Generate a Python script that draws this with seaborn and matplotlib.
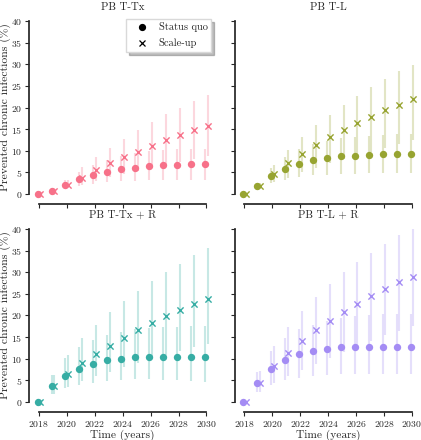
import numpy as np
import pandas as pd
import matplotlib
matplotlib.use("Agg")
import matplotlib.pyplot as plt
import seaborn as sns
from matplotlib.colors import to_rgba
from matplotlib.lines import Line2D

years = np.arange(2018, 2031)
titles = ["PB T-Tx", "PB T-L", "PB T-Tx + R", "PB T-L + R"]

# status quo: mean, lower, upper
sq_mean = [
    [0, 0.8, 2.2, 3.4, 4.4, 5.2, 5.7, 6.1, 6.4, 6.6, 6.8, 6.85, 6.85],
    [0, 1.85, 4.1, 5.8, 7.0, 7.8, 8.3, 8.7, 8.9, 9.1, 9.15, 9.2, 9.2],
    [0, 3.6, 6.1, 7.6, 8.8, 9.6, 10.0, 10.3, 10.4, 10.4, 10.3, 10.3, 10.3],
    [0, 4.4, 7.6, 9.7, 11.0, 11.7, 12.3, 12.6, 12.7, 12.7, 12.7, 12.7, 12.6],
]
sq_lo = [
    [0, 0.4, 1.3, 1.9, 2.3, 2.7, 2.9, 3.1, 3.2, 3.3, 3.3, 3.3, 3.3],
    [0, 1.2, 2.6, 3.3, 3.9, 4.3, 4.5, 4.6, 4.7, 4.8, 4.8, 4.8, 4.8],
    [0, 1.8, 3.2, 4.0, 4.5, 4.9, 5.1, 5.2, 5.2, 5.1, 5.0, 4.9, 4.7],
    [0, 2.4, 4.0, 5.0, 5.6, 6.0, 6.3, 6.4, 6.5, 6.5, 6.5, 6.5, 6.4],
]
sq_hi = [
    [0, 1.2, 3.2, 5.0, 6.6, 7.9, 8.8, 9.4, 9.9, 10.1, 10.3, 10.4, 10.5],
    [0, 2.6, 6.0, 8.5, 10.3, 11.5, 12.3, 12.9, 13.3, 13.5, 13.7, 13.8, 13.8],
    [0, 6.2, 10.1, 12.8, 14.4, 15.5, 16.2, 16.8, 17.1, 17.3, 17.4, 17.5, 17.5],
    [0, 6.9, 11.7, 14.9, 16.8, 17.9, 18.8, 19.4, 19.8, 20.1, 20.3, 20.3, 20.3],
]

# scale-up: mean, lower, upper
su_mean = [
    [0, 0.8, 2.2, 3.7, 5.5, 7.1, 8.5, 9.8, 11.1, 12.4, 13.6, 14.8, 15.8],
    [0, 1.85, 4.7, 7.1, 9.3, 11.3, 13.2, 14.9, 16.5, 17.9, 19.4, 20.7, 21.9],
    [0, 3.6, 6.5, 9.0, 11.1, 13.0, 14.8, 16.6, 18.2, 19.8, 21.2, 22.6, 23.8],
    [0, 4.5, 8.3, 11.4, 14.1, 16.6, 18.8, 20.9, 22.6, 24.4, 26.1, 27.7, 29.0],
]
su_lo = [
    [0, 0.4, 1.3, 2.0, 3.0, 3.9, 4.7, 5.4, 6.1, 6.8, 7.4, 8.1, 8.7],
    [0, 1.2, 2.8, 3.6, 5.0, 6.1, 7.1, 8.0, 8.9, 9.8, 10.7, 11.6, 12.4],
    [0, 1.8, 3.4, 4.8, 5.9, 7.0, 8.0, 9.0, 10.0, 10.9, 11.8, 12.6, 13.4],
    [0, 2.4, 4.4, 5.9, 7.4, 8.8, 10.2, 11.6, 12.9, 14.2, 15.4, 16.4, 17.5],
]
su_hi = [
    [0, 1.2, 3.2, 6.2, 8.5, 10.7, 12.8, 14.8, 16.7, 18.4, 20.0, 21.6, 22.9],
    [0, 2.6, 6.8, 10.2, 13.3, 16.0, 18.3, 20.6, 22.7, 24.7, 26.6, 28.4, 29.8],
    [0, 6.2, 10.9, 14.7, 17.8, 20.7, 23.3, 25.6, 27.9, 30.0, 32.0, 34.0, 35.5],
    [0, 7.2, 12.9, 17.4, 21.1, 24.3, 27.3, 30.0, 32.4, 34.5, 36.5, 38.5, 40.0],
]

sns.set_theme(style="ticks")
plt.rcParams["font.family"] = ["cmr10", "DejaVu Serif"]
plt.rcParams["mathtext.fontset"] = "cm"
plt.rcParams["axes.formatter.use_mathtext"] = True
plt.rcParams["axes.unicode_minus"] = False

colors = sns.color_palette("husl", 4)

fig, axes = plt.subplots(2, 2, figsize=(4.21, 4.40), dpi=100, sharex=True, sharey=True)
fig.subplots_adjust(left=0.076, right=0.995, bottom=0.0766, top=0.962, wspace=0.132, hspace=0.145)

shift = 0.1
for i, ax in enumerate(axes.flat):
    col = colors[i]
    light = to_rgba(col, 0.28)
    for mean, lo, hi, dx, marker in [
        (sq_mean[i], sq_lo[i], sq_hi[i], -shift, "o"),
        (su_mean[i], su_lo[i], su_hi[i], shift, "x"),
    ]:
        df = pd.DataFrame({"x": years + dx, "y": mean, "lo": lo, "hi": hi})
        ax.vlines(df["x"], df["lo"], df["hi"], color=light, lw=1.5, zorder=1)
        if marker == "o":
            sns.scatterplot(data=df, x="x", y="y", ax=ax, color=col, marker="o",
                            s=28, linewidth=0, zorder=3, legend=False, clip_on=False)
        else:
            sns.scatterplot(data=df, x="x", y="y", ax=ax, color=col, marker="x",
                            s=20, linewidth=1.0, zorder=3, legend=False, clip_on=False)
    ax.set_title(titles[i], fontsize=7.8, pad=5.0)
    ax.set_xlabel("")
    ax.set_ylabel("")
    ax.tick_params(labelsize=7, length=3, width=0.8, pad=2.0)

for ax in axes[:, 0]:
    ax.set_ylabel("Prevented chronic infections (%)", fontsize=8.4, labelpad=0.2)
for ax in axes[1, :]:
    ax.set_xlabel("Time (years)", fontsize=8.2, labelpad=0.8)
axes[0, 0].set_yticks(np.arange(0, 41, 5))
axes[0, 0].set_xticks(np.arange(2018, 2031, 2))
axes[0, 0].set_xlim(2017.5, 2030.5)
axes[0, 0].set_ylim(-1, 41)

handles = [
    Line2D([], [], color="black", marker="o", ls="", markersize=4.2),
    Line2D([], [], color="black", marker="x", ls="", markersize=3.8, markeredgewidth=0.9),
]
axes[0, 0].legend(handles, ["Status quo", "Scale-up"], loc="upper right", fontsize=7.5,
                  frameon=True, shadow={"alpha": 0.35}, fancybox=False,
                  handlelength=2.3, handletextpad=0.5, labelspacing=0.55,
                  borderpad=0.35, borderaxespad=0.2, edgecolor="0.85", framealpha=1)

sns.despine(fig=fig, offset={"left": 2, "bottom": 4}, trim=True)
fig.savefig("out.png", dpi=100)
